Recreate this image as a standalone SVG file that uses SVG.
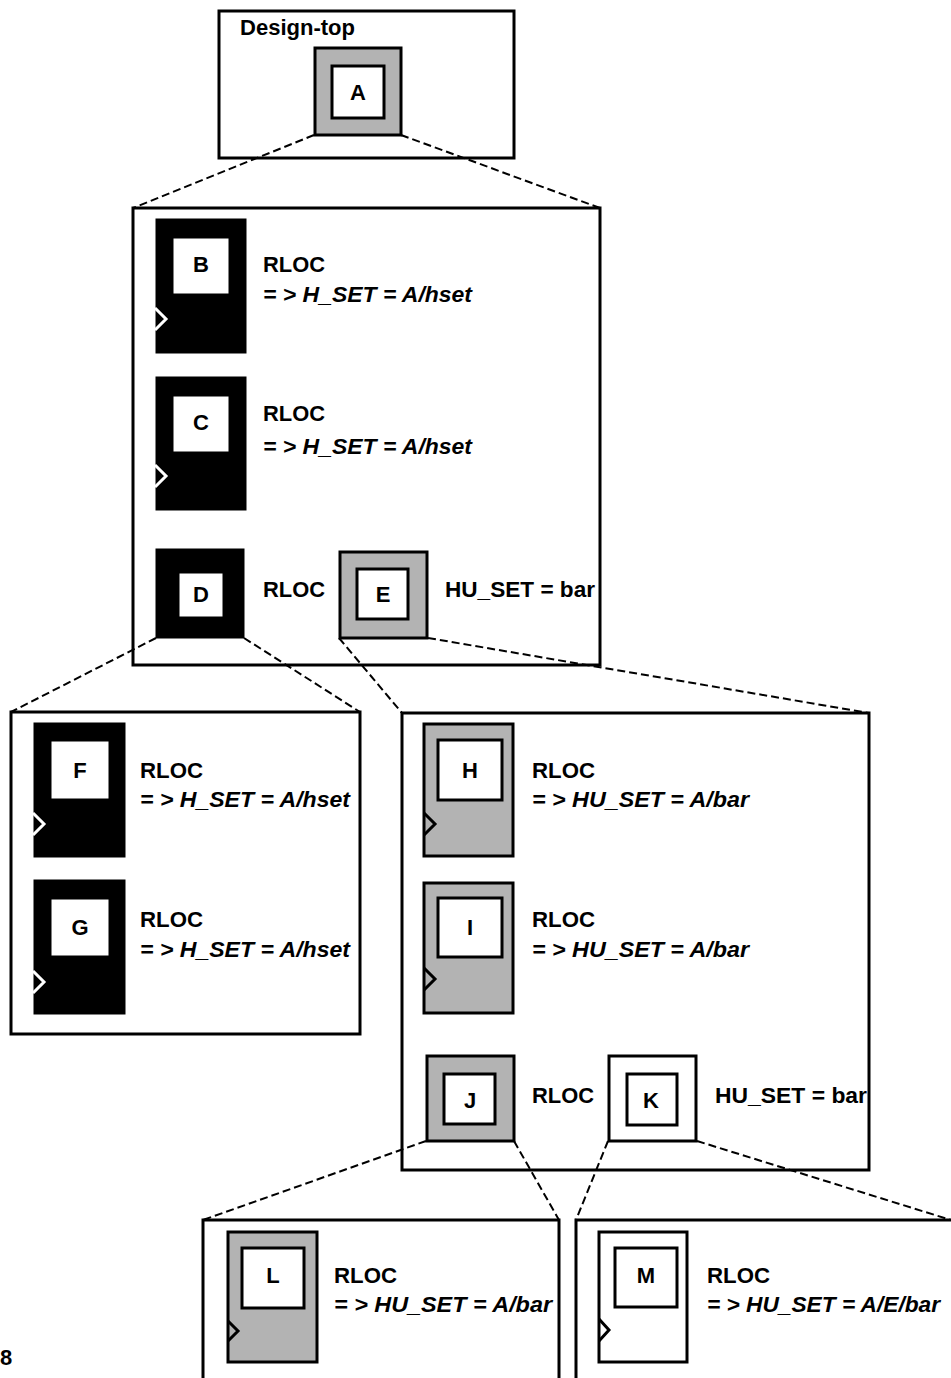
<svg xmlns="http://www.w3.org/2000/svg" width="951" height="1378" viewBox="0 0 951 1378">
<style>
.bg{fill:#ffffff}
.box{fill:none;stroke:#000;stroke-width:3}
.blk{fill:#000;stroke:#000;stroke-width:3}
.gry{fill:#b3b3b3;stroke:#000;stroke-width:3}
.wht{fill:#fff;stroke:#000;stroke-width:3}
.ck{fill:none;stroke:#000;stroke-width:3}
.ckw{fill:none;stroke:#fff;stroke-width:3}
.lbl{font-family:"Liberation Sans",Arial,sans-serif;font-weight:bold;font-size:22px;fill:#000;text-anchor:middle}
.t{font-family:"Liberation Sans",Arial,sans-serif;font-weight:bold;font-size:22px;fill:#000}
.ti{font-family:"Liberation Sans",Arial,sans-serif;font-weight:bold;font-style:italic;font-size:22px;fill:#000}
.dash{fill:none;stroke:#000;stroke-width:2;stroke-dasharray:8 4}
</style>
<rect class="bg" x="0" y="0" width="951" height="1378"/>

<g id="box-design-top">
<rect class="box" x="219" y="11" width="295" height="147"/>
<text class="t" x="240" y="35" font-size="21" textLength="115" lengthAdjust="spacingAndGlyphs">Design-top</text>
</g>
<g id="box-A">
<rect class="box" x="133" y="208" width="467" height="457"/>
</g>
<g id="box-D">
<rect class="box" x="11" y="712" width="349" height="322"/>
</g>
<g id="box-E">
<rect class="box" x="402" y="713" width="467" height="457"/>
</g>
<g id="box-J">
<rect class="box" x="203" y="1220" width="356" height="200"/>
</g>
<g id="box-K">
<rect class="box" x="576" y="1220" width="400" height="200"/>
</g>

<g id="node-A">
<rect class="gry" x="315" y="48" width="86" height="87"/>
<rect class="wht" x="332" y="66" width="52" height="52"/>
<text class="lbl" x="358" y="100" font-size="23">A</text>
</g>

<g id="node-B">
<rect class="blk" x="157" y="220" width="88" height="132"/>
<rect class="wht" x="172" y="237" width="58" height="58" stroke="#fff"/>
<text class="lbl" x="201" y="272">B</text>
<polyline class="ckw" points="155,308 166,319 155,330"/>
<text class="t" x="263" y="272" textLength="62" lengthAdjust="spacingAndGlyphs">RLOC</text>
<text class="ti" x="263" y="302" textLength="209" lengthAdjust="spacingAndGlyphs">= &gt; H_SET = A/hset</text>
</g>

<g id="node-C">
<rect class="blk" x="157" y="378" width="88" height="131"/>
<rect class="wht" x="172" y="395" width="58" height="58" stroke="#fff"/>
<text class="lbl" x="201" y="430">C</text>
<polyline class="ckw" points="155,465 166,476 155,487"/>
<text class="t" x="263" y="421" textLength="62" lengthAdjust="spacingAndGlyphs">RLOC</text>
<text class="ti" x="263" y="454" textLength="209" lengthAdjust="spacingAndGlyphs">= &gt; H_SET = A/hset</text>
</g>

<g id="node-D">
<rect class="blk" x="157" y="550" width="86" height="87"/>
<rect class="wht" x="178" y="572" width="46" height="46" stroke="#fff"/>
<text class="lbl" x="201" y="602">D</text>
<text class="t" x="263" y="597" textLength="62" lengthAdjust="spacingAndGlyphs">RLOC</text>
</g>

<g id="node-E">
<rect class="gry" x="340" y="552" width="87" height="86"/>
<rect class="wht" x="357" y="569" width="51" height="50"/>
<text class="lbl" x="383" y="602">E</text>
<text class="t" x="445" y="597" textLength="150" lengthAdjust="spacingAndGlyphs">HU_SET = bar</text>
</g>

<g id="node-F">
<rect class="blk" x="35" y="724" width="89" height="132"/>
<rect class="wht" x="50" y="740" width="60" height="60" stroke="#fff"/>
<text class="lbl" x="80" y="778">F</text>
<polyline class="ckw" points="33,813 44,824 33,835"/>
<text class="t" x="140" y="778" textLength="63" lengthAdjust="spacingAndGlyphs">RLOC</text>
<text class="ti" x="140" y="807" textLength="210" lengthAdjust="spacingAndGlyphs">= &gt; H_SET = A/hset</text>
</g>

<g id="node-G">
<rect class="blk" x="35" y="881" width="89" height="132"/>
<rect class="wht" x="50" y="898" width="60" height="59" stroke="#fff"/>
<text class="lbl" x="80" y="935">G</text>
<polyline class="ckw" points="33,971 44,982 33,993"/>
<text class="t" x="140" y="927" textLength="63" lengthAdjust="spacingAndGlyphs">RLOC</text>
<text class="ti" x="140" y="957" textLength="210" lengthAdjust="spacingAndGlyphs">= &gt; H_SET = A/hset</text>
</g>

<g id="node-H">
<rect class="gry" x="424" y="724" width="89" height="132"/>
<rect class="wht" x="438" y="740" width="64" height="60"/>
<text class="lbl" x="470" y="778">H</text>
<polyline class="ck" points="424,813 435,824 424,835"/>
<text class="t" x="532" y="778" textLength="63" lengthAdjust="spacingAndGlyphs">RLOC</text>
<text class="ti" x="532" y="807" textLength="217" lengthAdjust="spacingAndGlyphs">= &gt; HU_SET = A/bar</text>
</g>

<g id="node-I">
<rect class="gry" x="424" y="883" width="89" height="130"/>
<rect class="wht" x="438" y="898" width="64" height="59"/>
<text class="lbl" x="470" y="935">I</text>
<polyline class="ck" points="424,968 435,979 424,990"/>
<text class="t" x="532" y="927" textLength="63" lengthAdjust="spacingAndGlyphs">RLOC</text>
<text class="ti" x="532" y="957" textLength="217" lengthAdjust="spacingAndGlyphs">= &gt; HU_SET = A/bar</text>
</g>

<g id="node-J">
<rect class="gry" x="427" y="1056" width="87" height="85"/>
<rect class="wht" x="444" y="1074" width="51" height="50"/>
<text class="lbl" x="470" y="1108">J</text>
<text class="t" x="532" y="1103" textLength="62" lengthAdjust="spacingAndGlyphs">RLOC</text>
</g>

<g id="node-K">
<rect class="wht" x="609" y="1056" width="87" height="85"/>
<rect class="wht" x="627" y="1074" width="50" height="51"/>
<text class="lbl" x="651" y="1108">K</text>
<text class="t" x="715" y="1103" textLength="152" lengthAdjust="spacingAndGlyphs">HU_SET = bar</text>
</g>

<g id="node-L">
<rect class="gry" x="228" y="1232" width="89" height="130"/>
<rect class="wht" x="242" y="1248" width="62" height="60"/>
<text class="lbl" x="273" y="1283">L</text>
<polyline class="ck" points="228,1321 238,1331 228,1341"/>
<text class="t" x="334" y="1283" textLength="63" lengthAdjust="spacingAndGlyphs">RLOC</text>
<text class="ti" x="334" y="1312" textLength="218" lengthAdjust="spacingAndGlyphs">= &gt; HU_SET = A/bar</text>
</g>

<g id="node-M">
<rect class="wht" x="599" y="1232" width="88" height="130"/>
<rect class="wht" x="615" y="1248" width="62" height="59"/>
<text class="lbl" x="646" y="1283">M</text>
<polyline class="ck" points="599,1319 609,1330 599,1341"/>
<text class="t" x="707" y="1283" textLength="63" lengthAdjust="spacingAndGlyphs">RLOC</text>
<text class="ti" x="707" y="1312" textLength="233" lengthAdjust="spacingAndGlyphs">= &gt; HU_SET = A/E/bar</text>
</g>

<text class="t" x="0" y="1365" font-size="15">8</text>

<g id="connectors">
<line class="dash" x1="314" y1="135" x2="133" y2="208"/>
<line class="dash" x1="401" y1="135" x2="600" y2="208"/>
<line class="dash" x1="156" y1="638" x2="11" y2="712"/>
<line class="dash" x1="244" y1="638" x2="360" y2="712"/>
<line class="dash" x1="339" y1="638" x2="402" y2="713"/>
<line class="dash" x1="428" y1="638" x2="869" y2="713"/>
<line class="dash" x1="426" y1="1141" x2="203" y2="1220"/>
<line class="dash" x1="514" y1="1141" x2="559" y2="1220"/>
<line class="dash" x1="608" y1="1141" x2="576" y2="1220"/>
<line class="dash" x1="697" y1="1141" x2="951" y2="1220"/>
</g>
</svg>
